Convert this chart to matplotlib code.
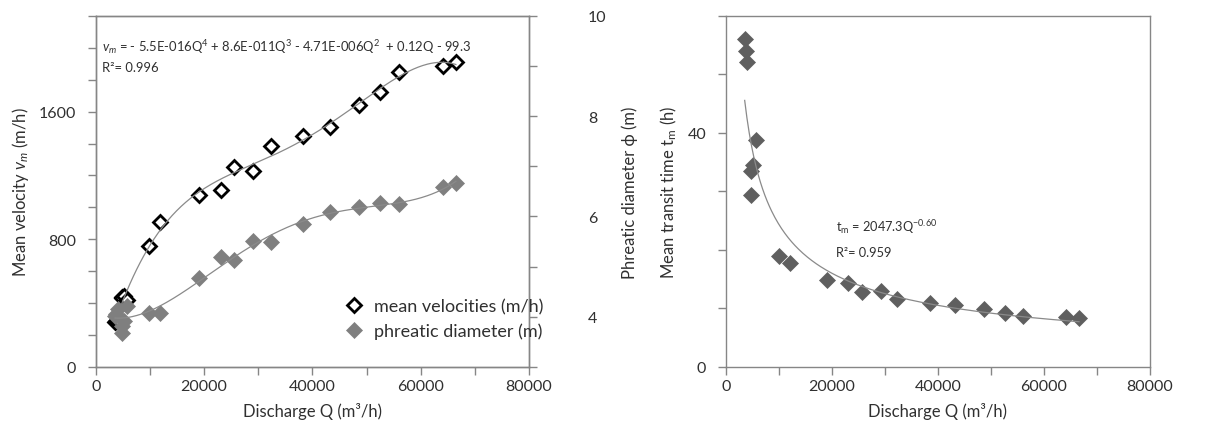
import numpy as np
import matplotlib
matplotlib.use("Agg")
import matplotlib.pyplot as plt
from matplotlib.ticker import MultipleLocator
from matplotlib.lines import Line2D

plt.rcParams['font.family'] = ['Lato', 'DejaVu Sans']
plt.rcParams['mathtext.fontset'] = 'custom'
plt.rcParams['mathtext.rm'] = 'Lato'
plt.rcParams['mathtext.it'] = 'Lato:italic'
plt.rcParams['mathtext.bf'] = 'Lato:bold'

# ---- data (left panel) ----
q_left = [3580, 3770, 4090, 4840, 4840, 5150, 5780, 9900, 11800, 19000, 23200,
          25600, 29100, 32400, 38300, 43200, 48600, 52400, 55960, 64100, 66500]
velocity = [279, 289, 295, 440, 430, 445, 418, 758, 905, 1074, 1111,
            1251, 1230, 1383, 1450, 1502, 1642, 1721, 1851, 1888, 1909]
diameter = [4.02, 4.05, 4.15, 3.82, 3.67, 3.92, 4.22, 4.08, 4.08, 4.78, 5.18,
            5.13, 5.51, 5.48, 5.84, 6.09, 6.18, 6.26, 6.24, 6.58, 6.67]

# ---- data (right panel) ----
q_right = [3580, 3770, 4090, 4840, 4840, 5150, 5780, 10060, 12070, 19170, 23130,
           25770, 29350, 32370, 38530, 43240, 48710, 52670, 56130, 64110, 66620]
transit = [56.1, 54.0, 52.1, 29.4, 33.5, 34.5, 38.7, 19.0, 17.8, 14.9, 14.3,
           12.7, 13.0, 11.6, 10.9, 10.6, 9.8, 9.2, 8.7, 8.5, 8.3]

eq_left = r"$\mathit{v}_{\mathit{m}}$ = - 5.5E-016Q$^{4}$ + 8.6E-011Q$^{3}$ - 4.71E-006Q$^{2}$  + 0.12Q - 99.3"
r2_left = "R\u00b2= 0.996"
eq_right = r"t$_{\mathrm{m}}$ = 2047.3Q$^{\mathrm{-0.60}}$"
r2_right = "R\u00b2= 0.959"
xlabel = "Discharge Q (m\u00b3/h)"

W, H = 1225, 435
fig = plt.figure(figsize=(W / 100, H / 100), dpi=100)

spine_c = '#868686'
text_c = '#303030'
line_c = '#8a8a8a'
fs_tick = 11.5
fs_lab = 12

def style(ax):
    for s in ax.spines.values():
        s.set_color(spine_c)
        s.set_linewidth(1.0)
    ax.tick_params(which='both', direction='out', length=5.5, width=1.0,
                   color=spine_c, labelcolor=text_c, labelsize=fs_tick)
    ax.tick_params(axis='y', which='both', pad=8.5)

BOT, TOP = 367.7, 17.0
L1, R1 = 95.7, 529.0
L2, R2 = 725.7, 1150.0

# ---- left panel ----
ax = fig.add_axes([L1 / W, (H - BOT) / H, (R1 - L1) / W, (BOT - TOP) / H])
ax2 = ax.twinx()
style(ax)
style(ax2)
ax2.tick_params(axis='y', which='both', pad=37)

ax.set_xlim(0, 80000)
ax.set_ylim(0, 2200)
ax2.set_ylim(3, 10)

ax.xaxis.set_major_locator(MultipleLocator(20000))
ax.xaxis.set_minor_locator(MultipleLocator(10000))
ax.yaxis.set_major_locator(MultipleLocator(800))
ax.yaxis.set_minor_locator(MultipleLocator(200))
ax2.yaxis.set_major_locator(MultipleLocator(2))
ax2.yaxis.set_minor_locator(MultipleLocator(1))

qv = np.array(q_left, float)
pv = np.polynomial.Polynomial.fit(qv, np.array(velocity, float), 4)
pd = np.polynomial.Polynomial.fit(qv, np.array(diameter, float), 4)
qq = np.linspace(qv.min(), qv.max(), 300)

ax.plot(q_left, velocity, linestyle='none', marker='D', ms=7, mfc='white',
        mec='black', mew=2.0, zorder=3)
ax.plot(qq, pv(qq), color=line_c, lw=0.9, zorder=4)
ax2.plot(q_left, diameter, linestyle='none', marker='D', ms=8, mfc='#7f7f7f',
         mec='#7f7f7f', mew=0.5, zorder=3)
ax2.plot(qq, pd(qq), color=line_c, lw=0.9, zorder=4)

ax.set_xlabel(xlabel, fontsize=fs_lab, color=text_c, labelpad=6)
ax.set_ylabel(r"Mean velocity $\mathit{v}_{\mathit{m}}$ (m/h)", fontsize=fs_lab, color=text_c, labelpad=6)
ax2.set_ylabel("Phreatic diameter \u03d5 (m)", fontsize=fs_lab, color=text_c, labelpad=11)

ax.text(0.0135, 0.914, eq_left, transform=ax.transAxes, fontsize=9.4, color=text_c,
        va='center', ha='left')
ax.text(0.0135, 0.855, r2_left, transform=ax.transAxes, fontsize=9.4, color=text_c,
        va='center', ha='left')

handles = [Line2D([], [], linestyle='none', marker='D', ms=7, mfc='white', mec='black', mew=2.0),
           Line2D([], [], linestyle='none', marker='D', ms=8, mfc='#7f7f7f', mec='#7f7f7f', mew=0.5)]
ax2.legend(handles, ["mean velocities (m/h)", "phreatic diameter (m)"], frameon=False,
           loc='upper left', bbox_to_anchor=(0.5744, 0.194), borderpad=0, borderaxespad=0,
           handlelength=1.0, handletextpad=0.61, labelspacing=0.45, fontsize=13,
           labelcolor=text_c)

# ---- right panel ----
bx = fig.add_axes([L2 / W, (H - BOT) / H, (R2 - L2) / W, (BOT - TOP) / H])
style(bx)
bx.set_xlim(0, 80000)
bx.set_ylim(0, 60)
bx.xaxis.set_major_locator(MultipleLocator(20000))
bx.xaxis.set_minor_locator(MultipleLocator(10000))
bx.yaxis.set_major_locator(MultipleLocator(40))
bx.yaxis.set_minor_locator(MultipleLocator(10))

qt = np.array(q_right, float)
b, loga = np.polyfit(np.log(qt), np.log(np.array(transit, float)), 1)
qq2 = np.linspace(qt.min(), qt.max(), 300)
bx.plot(q_right, transit, linestyle='none', marker='D', ms=8, mfc='#5f5f5f',
        mec='#5f5f5f', mew=0.5, zorder=3)
bx.plot(qq2, np.exp(loga) * qq2 ** b, color=line_c, lw=0.9, zorder=4)

bx.set_xlabel(xlabel, fontsize=fs_lab, color=text_c, labelpad=6)
bx.set_ylabel(r"Mean transit time t$_{\mathrm{m}}$ (h)", fontsize=fs_lab, color=text_c, labelpad=6)
bx.text(0.26, 0.402, eq_right, transform=bx.transAxes, fontsize=9.2, color=text_c,
        va='center', ha='left')
bx.text(0.26, 0.327, r2_right, transform=bx.transAxes, fontsize=9.2, color=text_c,
        va='center', ha='left')

fig.savefig("out.png", dpi=100)
